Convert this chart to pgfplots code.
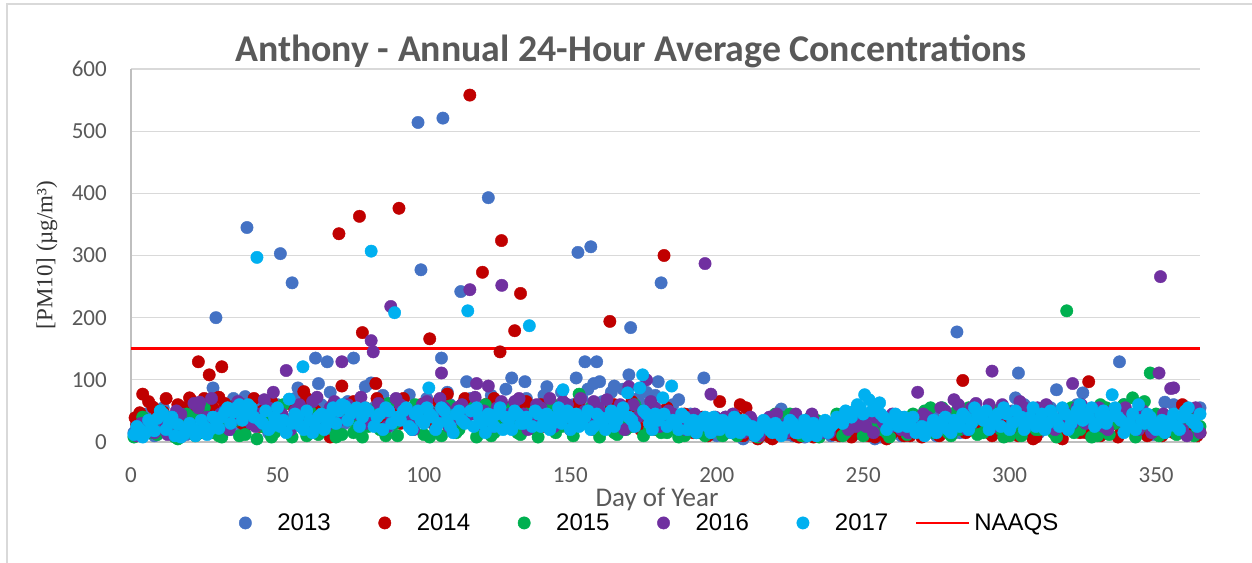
\documentclass[border=0pt]{standalone}
\usepackage{pgfplots}
\pgfplotsset{compat=1.18}
\usepackage{fontspec}
\setmainfont{Carlito}
\newfontfamily\arialf{Liberation Sans}
\newfontfamily\timesf{Liberation Serif}
\definecolor{cA}{HTML}{4472C4}
\definecolor{cB}{HTML}{C00000}
\definecolor{cC}{HTML}{00B050}
\definecolor{cD}{HTML}{7030A0}
\definecolor{cE}{HTML}{00B0F0}
\definecolor{txtgray}{HTML}{595959}
\definecolor{gridgray}{HTML}{D9D9D9}
\definecolor{axgray}{HTML}{BFBFBF}
\pgfplotsset{
  dotmark/.style={only marks, mark=*, mark size=6.2pt,
    legend image code/.code={\draw[##1] plot coordinates {(0pt,0pt)}; \path[draw=none] (-8pt,0pt) -- (32pt,0pt);}},
  naaqsleg/.style={legend image code/.code={\draw[overlay,##1] (-18pt,0pt) -- (35pt,0pt); \path[draw=none] (0pt,0pt) -- (40pt,0pt);}},
}
\begin{document}
\begin{tikzpicture}
\useasboundingbox (-131pt,-120pt) rectangle (1121pt,442pt);
\draw[gridgray, line width=1.5pt] (-124pt,-125pt) -- (-124pt,438pt) -- (1125pt,438pt);
\begin{axis}[
  at={(0pt,0pt)}, anchor=south west,
  scale only axis, width=1069pt, height=373pt,
  xmin=0, xmax=365, ymin=0, ymax=600,
  xtick={0,50,...,350}, ytick={0,100,...,600},
  axis lines=left, axis line style={axgray, line width=1.2pt, -},
  major tick length=0pt,
  ymajorgrids, grid style={gridgray, line width=1.3pt},
  clip=false,
  /pgf/number format/assume math mode=true,
  ticklabel style={font=\fontsize{23}{23}\selectfont, text=txtgray, inner sep=0pt},
  xticklabel style={anchor=north, yshift=-25pt},
  yticklabel style={anchor=east, xshift=-24pt},
  legend columns=6,
  legend style={at={(0.4835,-0.217)}, anchor=center, draw=none, fill=none,
    font=\arialf\fontsize{24}{24}\selectfont, text=black,
    column sep=0pt, nodes={inner sep=0pt},
    /tikz/every even column/.append style={column sep=46pt}},
  legend cell align=left,
]
\addplot[forget plot, red, line width=2.6pt] coordinates {(0,150)(365,150)};

\addplot[dotmark, color=cA] coordinates {
(1,15)(4,22)(7,35)(10,18)(13,40)(16,28)(19,12)(22,45)(25,30)(28,87)(29,200)(31,38)(34,20)(37,55)(39,73)(39.6,345)(43,30)(46,48)(49,25)(51,303)(52,40)(55,256)(57,87)(58,35)(61,50)(63,135)(64,94)(67,129)(70,45)(73,30)(76,135)(79,55)(80,89)(82,95)(85,40)(88,60)(91,35)(94,50)(95,76)(97,42)(98,514)(99,277)(100,55)(103,38)(106,135)(106.5,521)(109,60)(112,45)(112.6,242)(114.6,97)(118,50)(121,35)(122,393)(124,58)(127,40)(130,103)(133,55)(134.5,97)(136,45)(139,30)(142,89)(145,50)(148,40)(151,60)(152,103)(152.6,305)(155,129)(157,314)(158,94)(159,129)(160,97)(163,50)(165,90)(166,40)(169,55)(170,108)(170.6,184)(172,45)(175,60)(178,35)(180,97)(181,256)(184,40)(187,68)(190,30)(193,25)(195.6,103)(199,20)(202,30)(205,15)(208,25)(211,12)(214,20)(217,35)(220,18)(222,53)(223,25)(226,10)(229,30)(232,22)(235,15)(238,28)(241,35)(244,20)(247,12)(250,30)(253,25)(256,8)(259,30)(262,20)(265,35)(268,15)(271,25)(274,40)(277,20)(280,30)(282,177)(283,15)(286,35)(289,25)(292,45)(295,20)(298,30)(301,50)(302,71)(303,111)(304,25)(307,35)(310,15)(313,40)(316,84)(319,30)(322,45)(325,79)(328,25)(331,40)(334,30)(337,50)(337.5,129)(340,20)(343,35)(346,45)(349,12)(352,30)(353,64)(355,40)(358,20)(361,35)(364,50)(365,55)
(2,30)(5,45)(8,10)(11,55)(14,25)(17,8)(20,40)(23,60)(26,15)(32,50)(35,70)(38,25)(41,45)(44,65)(47,15)(50,60)(53,30)(56,70)(59,45)(62,20)(65,60)(68,80)(71,30)(74,65)(77,20)(83,55)(86,75)(89,25)(92,65)(96,30)(101,70)(104,50)(108,80)(111,25)(116,70)(119,40)(123,75)(126,60)(128,85)(131,30)(135,70)(138,50)(141,75)(144,35)(147,80)(150,45)(154,70)(156,85)(161,65)(164,80)(167,35)(168,85)(173,70)(176,80)(177,50)(179,75)(182,45)(185,60)(188,20)(191,45)(194,15)(197,35)(200,10)(203,40)(206,20)(209,5)(212,30)(215,10)(218,25)(221,40)(224,12)(227,30)(230,8)(233,35)(236,20)(239,10)(242,30)(245,15)(248,40)(251,20)(254,5)(257,25)(260,40)(263,10)(266,30)(269,20)(272,45)(275,10)(278,35)(281,15)(284,50)(287,20)(290,40)(293,55)(296,15)(299,45)(305,60)(308,20)(311,40)(314,55)(317,25)(320,45)(323,60)(326,35)(329,50)(332,20)(335,45)(339,60)(341,30)(344,50)(347,15)(350,40)(354,20)(356,60)(359,30)(362,45)
};
\addlegendentry{2013}

\addplot[dotmark, color=cB] coordinates {
(1.4,39)(2,28)(3,47)(4,77)(5,20)(7.5,56)(8,35)(11,48)(14,25)(16,60)(17,40)(20,71)(22,55)(23,129)(26,45)(26.7,108)(29,30)(31,121)(32,62)(35,40)(38,30)(41,55)(44,25)(47,45)(50,35)(53,20)(56,50)(59,81)(62,40)(65,30)(68,8)(71,335)(72,90)(74,45)(77,35)(78,363)(79,176)(80,55)(83.6,94)(84,70)(86,40)(89,60)(91.5,376)(92,30)(95,45)(98,35)(101,50)(102,166)(104,30)(107,55)(108,77)(110,40)(113,60)(115.7,558)(119,45)(120,273)(122,30)(125,50)(126,145)(126.5,324)(128,40)(131,179)(133,239)(134,55)(137,35)(140,60)(143,25)(146,45)(149,30)(152,50)(155,35)(158,20)(161,40)(163.5,194)(164,55)(167,30)(170,45)(173,25)(176,40)(179,20)(182,300)(185,35)(188,15)(191,30)(194,25)(197,10)(200,20)(201,65)(203,15)(206,25)(208,60)(209,10)(212,20)(214,5)(215,12)(218,8)(221,25)(224,15)(227,10)(230,20)(233,8)(236,15)(239,25)(242,10)(245,20)(248,30)(251,12)(254,8)(257,20)(260,15)(263,25)(266,10)(269,30)(272,20)(275,15)(278,35)(281,25)(284,99)(287,20)(290,30)(293,15)(296,40)(299,10)(302,25)(305,15)(308,5)(311,20)(314,30)(317,10)(320,25)(323,35)(326,15)(327,97)(329,40)(332,20)(335,30)(338,15)(341,45)(344,25)(347,10)(350,20)(353,35)(356,15)(359,60)(362,25)(365,15)
(6,65)(9,45)(12,70)(15,30)(18,55)(21,65)(24,40)(25,70)(28,55)(30,72)(33,45)(36,60)(39,25)(42,70)(45,50)(48,65)(51,40)(54,62)(57,30)(60,70)(63,50)(66,25)(69,60)(73,45)(76,65)(81,40)(85,62)(88,30)(90,55)(93,70)(96,40)(99,60)(103,30)(105,65)(109,45)(111,20)(114,70)(117,50)(121,60)(123,40)(124,70)(129,55)(132,30)(135,65)(138,45)(141,25)(144,60)(147,50)(150,20)(153,65)(156,45)(159,55)(162,30)(165,60)(168,40)(171,65)(174,20)(177,50)(180,35)(183,55)(186,25)(189,45)(192,15)(195,40)(198,30)(204,25)(207,40)(210,55)(213,10)(216,20)(219,5)(222,15)(225,25)(228,8)(231,20)(234,10)(237,30)(240,12)(243,25)(246,8)(249,20)(252,10)(255,25)(258,5)(261,20)(264,10)(267,25)(270,8)(273,30)(276,10)(279,20)(282,40)(285,15)(288,30)(291,45)(294,10)(297,25)(300,35)(303,10)(306,20)(309,8)(312,35)(315,20)(318,5)(321,30)(324,15)(328,45)(331,10)(334,25)(337,8)(340,30)(343,15)(346,35)(349,20)(352,10)(355,30)(358,20)(361,40)(364,10)
};
\addlegendentry{2014}

\addplot[dotmark, color=cC] coordinates {
(3,20)(6,30)(9,12)(12,35)(15,8)(18,25)(21,40)(24,15)(27,30)(30,10)(33,22)(36,35)(39,12)(42,45)(45,25)(48,8)(51,30)(54,15)(57,40)(60,10)(63,28)(66,45)(69,20)(72,12)(75,35)(78,50)(81,25)(84,55)(87,10)(90,30)(93,50)(96,20)(99,40)(102,8)(105,30)(108,45)(111,15)(114,35)(117,55)(120,25)(123,10)(126,40)(129,30)(132,15)(135,45)(138,20)(141,35)(144,60)(147,25)(150,40)(153,77)(156,30)(159,20)(162,45)(165,15)(168,35)(171,25)(174,50)(177,20)(180,40)(183,15)(186,30)(189,10)(192,25)(195,35)(198,15)(201,30)(204,20)(207,10)(210,25)(213,15)(216,30)(219,20)(222,40)(225,45)(228,25)(231,15)(234,35)(237,20)(240,30)(243,10)(246,25)(249,40)(252,20)(255,30)(258,15)(261,35)(264,25)(267,45)(270,20)(273,55)(276,30)(279,15)(282,50)(285,25)(288,35)(291,15)(294,45)(297,20)(300,10)(303,35)(306,50)(309,20)(312,40)(315,15)(318,30)(319.5,211)(321,55)(324,20)(327,40)(330,10)(333,55)(336,30)(339,60)(342,71)(345,25)(348,111)(350,45)(353,15)(356,30)(359,20)(362,40)(365,25)
(1,8)(4,40)(7,15)(10,50)(13,20)(16,5)(19,45)(22,10)(25,55)(28,15)(31,8)(34,50)(37,10)(40,55)(43,5)(46,35)(49,15)(52,60)(55,8)(58,25)(61,50)(64,12)(67,30)(70,8)(73,55)(76,15)(79,8)(82,40)(85,20)(88,62)(91,10)(94,35)(97,60)(100,12)(103,45)(106,10)(109,58)(112,20)(115,45)(118,8)(121,60)(124,15)(127,30)(130,55)(133,12)(136,35)(139,8)(142,50)(145,15)(148,62)(151,10)(154,30)(157,55)(160,8)(163,35)(166,12)(169,20)(172,60)(175,10)(178,30)(181,15)(184,45)(187,8)(190,35)(193,15)(196,10)(199,25)(202,10)(205,30)(208,15)(211,35)(214,8)(217,20)(220,45)(223,15)(226,35)(229,10)(232,40)(235,8)(238,25)(241,45)(244,15)(247,30)(250,10)(253,45)(256,20)(259,8)(262,40)(265,12)(268,30)(271,50)(274,15)(277,55)(280,10)(283,20)(286,55)(289,12)(292,30)(295,50)(298,8)(301,25)(304,10)(307,40)(310,20)(313,55)(316,8)(322,15)(325,45)(328,8)(331,60)(334,12)(337,45)(340,25)(343,8)(346,65)(349,20)(351,10)(354,40)(357,12)(360,30)(363,10)
};
\addlegendentry{2015}

\addplot[dotmark, color=cD] coordinates {
(2,10)(5,25)(8,15)(11,35)(14,20)(17,45)(20,30)(23,55)(23.5,64)(26,40)(29,25)(32,50)(35,35)(38,60)(41,30)(44,45)(47,55)(48.6,80)(50,35)(53,115)(56,50)(59,30)(62,65)(65,40)(68,55)(71,35)(72,129)(74,60)(77,45)(80,30)(82,163)(82.7,145)(86,55)(88.7,218)(89,40)(92,60)(95,35)(98,50)(101,65)(104,40)(106,111)(107,55)(110,35)(113,60)(115.7,245)(116,45)(118,94)(119,30)(122,90)(125,55)(126.6,252)(128,40)(131,65)(134,45)(137,30)(140,55)(143,70)(146,40)(149,60)(152,35)(155,50)(158,65)(161,45)(164,30)(167,60)(170,89)(173,40)(176,100)(179,55)(182,35)(185,45)(188,30)(191,40)(194,25)(196,287)(197,35)(198,77)(200,20)(203,40)(206,30)(209,15)(212,35)(215,25)(218,40)(221,20)(224,30)(227,45)(230,25)(233,35)(236,15)(239,30)(242,40)(245,20)(248,35)(251,25)(254,40)(257,30)(260,45)(263,20)(266,35)(268.6,80)(269,25)(272,40)(275,30)(278,50)(281,68)(284,35)(287,55)(290,40)(293,60)(294,114)(296,30)(299,50)(302,35)(305,55)(308,45)(311,25)(314,50)(317,35)(320,40)(321.5,94)(323,55)(326,30)(329,45)(332,25)(335,50)(338,35)(341,45)(344,20)(347,40)(350,30)(351,111)(351.5,266)(353,25)(355,86)(356,87)(359,20)(362,35)(365,15)
(3.5,30)(6.5,18)(9.5,40)(12.5,12)(15.5,50)(18.5,22)(21.5,62)(24.5,35)(27.5,70)(30.5,45)(33.5,20)(36.5,65)(39.5,50)(42.5,25)(45.5,68)(51.5,45)(54.5,20)(57.5,60)(60.5,38)(63.5,72)(66.5,25)(69.5,65)(75.5,50)(78.5,72)(81.5,40)(84.5,62)(87.5,25)(90.5,70)(93.5,45)(96.5,20)(99.5,60)(102.5,45)(105.5,70)(108.5,25)(111.5,55)(114.5,40)(117.5,72)(120.5,50)(123.5,25)(126.5,65)(129.5,45)(132.5,70)(135.5,20)(138.5,60)(141.5,40)(144.5,25)(147.5,65)(150.5,45)(153.5,70)(156.5,30)(159.5,55)(162.5,68)(165.5,40)(168.5,20)(171.5,60)(174.5,45)(177.5,65)(180.5,25)(183.5,50)(186.5,40)(189.5,20)(192.5,45)(195.5,30)(199.5,40)(202.5,25)(205.5,45)(208.5,20)(211.5,40)(214.5,10)(217.5,30)(220.5,45)(223.5,15)(226.5,35)(229.5,20)(232.5,45)(235.5,30)(238.5,15)(241.5,35)(244.5,45)(247.5,25)(250.5,40)(253.5,15)(256.5,35)(259.5,25)(262.5,40)(265.5,15)(270.5,45)(273.5,20)(276.5,55)(279.5,35)(282.5,60)(285.5,20)(288.5,62)(291.5,45)(294.5,25)(297.5,60)(300.5,40)(303.5,65)(306.5,30)(309.5,55)(312.5,60)(315.5,20)(318.5,50)(321.5,30)(324.5,60)(327.5,40)(330.5,55)(333.5,20)(336.5,45)(339.5,55)(342.5,30)(345.5,50)(348.5,15)(352.5,45)(357.5,40)(360.5,10)(363.5,55)
};
\addlegendentry{2016}

\addplot[dotmark, color=cE] coordinates {
(1,12)(3,20)(5,15)(7,28)(9,38)(11,45)(13,30)(15,10)(17,8)(19,18)(21,22)(23,15)(25,25)(27,20)(29,35)(31,40)(33,55)(35,48)(37,60)(39,45)(41,55)(43,297)(44,35)(45,30)(47,20)(49,40)(51,25)(53,15)(54,69)(55,30)(57,40)(58.7,121)(59,20)(61,35)(63,25)(65,45)(67,30)(69,55)(71,50)(73,58)(75,45)(77,55)(79,40)(81,50)(82,307)(83,25)(85,45)(87,55)(89,30)(90,208)(91,40)(93,50)(95,25)(97,45)(99,35)(101.7,87)(101,55)(103,40)(105,30)(107,50)(109,25)(111,45)(113,35)(115,211)(116,50)(117,25)(119,40)(121,15)(123,35)(125,45)(127,20)(129,35)(131,50)(133,30)(135,40)(136,187)(137,25)(139,45)(141,35)(143,20)(145,40)(147.5,84)(147,30)(149,50)(151,35)(153,25)(155,40)(157,20)(159,45)(161,30)(163,40)(165,25)(167,45)(169.6,79)(171,35)(173.7,87)(174.7,108)(175,50)(177,30)(179,45)(181.6,71)(183,25)(184.6,90)(185,35)(187,20)(189,40)(191,30)(193,15)(195,35)(197,25)(199,40)(201,20)(203,30)(205,15)(207,25)(209,35)(211,20)(213,10)(215,25)(217,30)(219,15)(221,25)(223,20)(225,35)(227,15)(229,25)(231,10)(233,30)(235,20)(237,35)(239,25)(241,40)(243,30)(245,45)(247,50)(249,55)(250.5,76)(252,68)(253,50)(255.6,63)(257,40)(259,30)(261,45)(263,35)(265,25)(267,40)(269,20)(271,10)(273,25)(275,15)(277,30)(279,20)(281,35)(283,25)(285,40)(287,30)(289,45)(291,35)(293,20)(295,40)(297,25)(299,45)(301,30)(303,35)(305,20)(307,40)(309,25)(311,45)(313,30)(315,40)(317,25)(319,45)(321,30)(323,50)(325,35)(327,40)(329,25)(331,45)(333,30)(335,76)(337,40)(339,15)(341,30)(343,20)(345,35)(347,45)(349,25)(351,30)(353,15)(355,35)(357,25)(359,40)(361,55)(363,30)(365,45)
(2,25)(4,8)(6,35)(8,18)(10,50)(12,20)(14,40)(16,28)(18,12)(20,30)(22,10)(24,35)(26,12)(28,40)(30,22)(32,48)(34,30)(36,55)(38,35)(40,60)(42,40)(46,50)(48,25)(50,55)(52,35)(56,45)(58,25)(60,50)(62,15)(64,40)(66,20)(68,45)(70,30)(72,60)(74,35)(76,50)(78,25)(80,55)(84,40)(86,20)(88,50)(92,35)(94,55)(96,20)(98,50)(100,30)(102,45)(104,20)(106,55)(108,35)(110,15)(112,50)(114,30)(118,55)(120,30)(122,45)(124,25)(126,55)(128,40)(130,20)(132,45)(134,30)(138,50)(140,25)(142,45)(144,30)(146,55)(148,40)(150,20)(152,45)(154,30)(156,50)(158,25)(160,40)(162,20)(164,50)(166,35)(168,55)(170,40)(172,25)(176,45)(178,20)(180,35)(182,45)(186,30)(188,45)(190,20)(192,35)(194,25)(196,40)(198,15)(200,30)(202,35)(204,25)(206,40)(208,15)(210,30)(212,25)(214,15)(216,35)(218,20)(220,30)(222,10)(224,25)(226,30)(228,15)(230,35)(232,20)(234,10)(236,25)(238,15)(240,30)(242,35)(244,50)(246,40)(248,60)(250,45)(254,55)(256,45)(258,20)(260,35)(262,25)(264,40)(266,30)(268,15)(270,25)(272,20)(274,35)(276,25)(278,40)(280,15)(282,30)(284,45)(286,20)(288,55)(290,40)(292,50)(294,30)(296,45)(298,55)(300,20)(302,50)(304,40)(306,30)(308,55)(310,35)(312,20)(314,50)(316,35)(318,55)(320,20)(322,40)(324,60)(326,45)(328,55)(330,30)(332,50)(334,40)(336,55)(338,35)(340,25)(342,45)(344,60)(346,30)(348,40)(350,20)(352,35)(354,25)(356,45)(358,20)(360,50)(362,35)(364,25)
};
\addlegendentry{2017}

\addlegendimage{naaqsleg, red, line width=2.6pt}
\addlegendentry{NAAQS}
\end{axis}
\node[anchor=base, font=\bfseries\fontsize{37.8}{38}\selectfont, text=txtgray] at (500pt,380pt) {Anthony - Annual 24-Hour Average Concentrations};
\node[anchor=base, font=\fontsize{27}{27}\selectfont, text=txtgray] at (526pt,-64pt) {Day of Year};
\node[rotate=90, font=\timesf\fontsize{23}{23}\selectfont, text=black!80] at (-84pt,187pt) {[PM10] (µg/m³)};
\end{tikzpicture}
\end{document}
